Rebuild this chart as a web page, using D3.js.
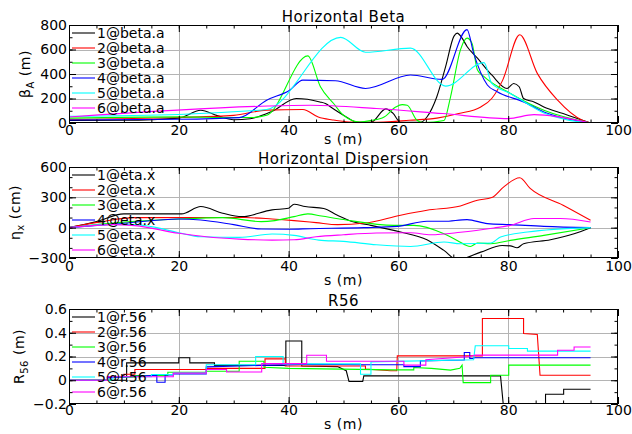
<!DOCTYPE html>
<html>
<head>
<meta charset="utf-8">
<script src="https://cdn.jsdelivr.net/npm/d3@7"></script>
<style>
  body { margin: 0; background: #fff; }
  text { font-family: "DejaVu Sans", sans-serif; }
</style>
</head>
<body>
<svg id="chart" width="632" height="434"></svg>
<script>
// series colours (1..6)
const seriesColors = ["#000000", "#ff0000", "#00ff00", "#0000ff", "#00ffff", "#ff00ff"];

// ---- Horizontal Beta (m), [s, beta] ----
const beta1 = [[0,20],[10,22],[20,40],[24,104],[27,60],[30,27],[33,35],[37,95],[41.4,200],[45.7,172],[46.7,159],[48,120],[50.5,50],[52.5,5],[55,5],[57.7,115],[59,80],[60.4,5],[64,5],[65.2,49],[67,214],[68.6,460],[70.1,707],[70.7,734],[71.6,693],[72.5,625],[74.4,529],[77,392],[79.8,282],[81,323],[82,296],[82.8,200],[84.7,172],[86.5,131],[90,77],[92.6,36],[95,0]];
const beta2 = [[0,30],[20,45],[30,62],[36,105],[42.6,110],[45.4,49],[48,25],[51,8],[55,5],[62,22],[67,40],[71,77],[75,131],[77,200],[79,350],[82.1,720],[85.3,405],[89,186],[93.5,22],[95,0]];
const beta3 = [[0,40],[20,50],[30,45],[33,45],[36,63],[43.5,548],[45.8,296],[48.2,159],[50,63],[53,8],[55,20],[57.4,49],[59.5,130],[60.7,150],[61.6,145],[63.4,22],[64.6,3],[68.3,20],[69.5,214],[71.3,597],[72.5,693],[73.4,652],[74.4,433],[75.6,378],[80.4,241],[86.5,104],[95,0]];
const beta4 = [[0,25],[20,30],[31,44],[36,186],[40.2,268],[42.6,350],[48.5,345],[54,282],[62.2,392],[68,356],[72.5,762],[73.7,570],[76.2,310],[78,255],[82.8,172],[86.5,90],[95,0]];
const beta5 = [[0,55],[20,70],[33,100],[36,110],[49.5,699],[54,578],[62.2,611],[68.6,301],[75.6,493],[77,323],[80.4,241],[86.5,82],[95,0]];
const beta6 = [[0,49],[35,137],[44,145],[56,118],[68,77],[80,36],[84.7,68],[95,0]];

// ---- Horizontal Dispersion (cm), [s, eta] ----
const eta1 = [[0,0],[5,60],[10,136],[20.5,136],[24,209],[28,143],[31.5,109],[37,176],[40,192],[41,232],[43,209],[46.4,189],[48.9,123],[51.9,56],[55,23],[60.4,-43],[65.2,-119],[68.3,-225],[70.7,-318],[75,-242],[78.9,-176],[80.4,-180],[81.6,-199],[82.8,-159],[87.7,-119],[92,-60],[95,0]];
const eta2 = [[0,0],[6,60],[12,99],[32,100],[37,86],[41,70],[45,50],[48.9,30],[54,46],[60.4,123],[65.2,172],[71.3,215],[74.4,272],[77,298],[79.2,404],[82.1,494],[84,388],[90,222],[95,73]];
const eta3 = [[0,0],[10,55],[20,86],[28,99],[35,60],[37.5,70],[41,109],[43.5,136],[46,115],[50,80],[59.2,23],[62.8,23],[68.3,-60],[70.7,-126],[73.1,-186],[74.4,-152],[76.8,-159],[80.4,-126],[86.5,-76],[95,0]];
const eta4 = [[0,0],[10,43],[20,86],[24,76],[30,30],[35,-13],[40,-15],[44,-10],[53.7,0],[59.8,13],[65.2,63],[68.3,63],[72.5,80],[76.2,40],[80.4,30],[86.5,13],[95,0]];
const eta5 = [[0,0],[8,33],[12,30],[15,10],[20,-50],[24,-90],[31,-96],[37,-63],[41,-76],[45.5,-123],[50,-136],[56,-169],[62.2,-186],[68.3,-142],[71.3,-159],[76.8,-152],[78.6,-93],[83.5,-43],[95,0]];
const eta6 = [[0,0],[8,30],[12,20],[20,-56],[25,-90],[31,-113],[37,-123],[41,-120],[45,-90],[50,-70],[56,-53],[62.2,-50],[65.9,-70],[71.3,-46],[77.4,-3],[80.4,23],[84.7,90],[89.5,90],[95,56]];

// ---- R56 (m), [s, r56] step data ----
const r561 = [[0,0],[10.5,0],[10.5,0.146],[20,0.146],[20,0.19],[22,0.19],[22,0.146],[26.5,0.146],[26.5,0.125],[39.5,0.125],[39.5,0.33],[42.4,0.33],[42.4,0.12],[48.9,0.115],[50.5,0.08],[51,-0.01],[53.5,-0.01],[53.7,0.037],[78.6,0.037],[79.2,-0.25],[86.8,-0.25],[86.8,-0.118],[90.1,-0.118],[90.1,-0.076],[95,-0.076]];
const r562 = [[0,0],[7,0],[7,0.03],[10,0.03],[10,0.05],[12,0.05],[12,0.09],[25,0.09],[25,0.1],[35.7,0.1],[35.7,0.18],[39.4,0.18],[39.4,0.12],[54,0.12],[54,0.095],[58.6,0.08],[59.7,0.08],[59.8,0.205],[75.3,0.205],[75.3,0.52],[82.8,0.52],[82.8,0.394],[85.3,0.385],[85.8,0.042],[95,0.042]];
const r563 = [[0,0],[7.5,0],[7.5,0.025],[12,0.025],[12,0.04],[18,0.04],[18,0.068],[25,0.068],[25,0.076],[31,0.076],[31,0.16],[35.5,0.16],[35.5,0.11],[40,0.1],[59.2,0.087],[62.8,0.087],[62.8,0.107],[66,0.1],[69.5,0.085],[71.2,0.1],[71.6,0.127],[71.8,-0.02],[76.8,-0.02],[76.8,0.042],[80.1,0.042],[80.1,0.127],[95,0.127]];
const r564 = [[0,0],[7,0],[7,0.02],[15,0.04],[16,0.04],[16,-0.017],[17.5,-0.017],[17.5,0.045],[19,0.045],[19,0.054],[25,0.054],[25,0.113],[35,0.125],[44,0.135],[54,0.13],[61,0.13],[61,0.115],[64,0.115],[64,0.163],[72,0.17],[72,0.234],[73,0.234],[73,0.183],[73.7,0.183],[73.7,0.19],[95,0.19]];
const r565 = [[0,0],[8,0],[8,0.03],[15,0.03],[15,0.048],[19,0.048],[19,0.06],[25,0.06],[25,0.13],[34,0.13],[34,0.2],[39,0.2],[39,0.138],[53.1,0.138],[53.1,0.05],[55,0.05],[55,0.155],[73.7,0.172],[74,0.29],[80.1,0.29],[80.1,0.268],[83.5,0.268],[83.5,0.245],[95,0.245]];
const r566 = [[0,0],[7,0],[7,0.03],[19,0.03],[19,0.06],[25,0.06],[25,0.09],[28.7,0.09],[28.7,0.07],[35.1,0.07],[35.1,0.14],[43.3,0.14],[43.3,0.21],[46.9,0.21],[46.9,0.16],[61,0.16],[61,0.127],[65,0.127],[65,0.172],[73,0.2],[74,0.212],[89,0.212],[89,0.253],[92,0.253],[92,0.28],[95,0.28]];

const svg = d3.select("#chart");
const X0 = 69, X1 = 618;
const FONT = 14;

const panels = [
  { title: "Horizontal Beta", top: 25, bottom: 123, domain: [0, 800], major: 200, minor: 100,
    series: [beta1, beta2, beta3, beta4, beta5, beta6], names: ["beta.a"], curve: d3.curveMonotoneX,
    ylab: ["\u03b2", "A", " (m)"], ylabX: 30, tickPad: 2, xlabOff: 21, fmt: d => d },
  { title: "Horizontal Dispersion", top: 167, bottom: 258, domain: [-300, 600], major: 300, minor: 100,
    series: [eta1, eta2, eta3, eta4, eta5, eta6], names: ["eta.x"], curve: d3.curveMonotoneX,
    ylab: ["\u03b7", "x", " (cm)"], ylabX: 20, tickPad: 3, xlabOff: 27, fmt: d => d < 0 ? "\u2212" + (-d) : d },
  { title: "R56", top: 309, bottom: 404, domain: [-0.2, 0.6], major: 0.2, minor: 0.1,
    series: [r561, r562, r563, r564, r565, r566], names: ["r.56"], curve: d3.curveLinear,
    ylab: ["R", "56", " (m)"], ylabX: 24, tickPad: 1, xlabOff: 25,
    fmt: d => Math.abs(d) < 1e-9 ? "0" : (d < 0 ? "\u2212" + (-d).toFixed(1) : d.toFixed(1)) }
];

function range(a, b, step) {
  const out = [];
  const n = Math.round((b - a) / step);
  for (let i = 0; i <= n; i++) out.push(+(a + i * step).toFixed(6));
  return out;
}

panels.forEach((p, pi) => {
  const x = d3.scaleLinear().domain([0, 100]).range([X0, X1]);
  const y = d3.scaleLinear().domain(p.domain).range([p.bottom, p.top]);
  const g = svg.append("g");

  const xMajor = range(0, 100, 20), xMinor = range(0, 100, 5);
  const yMajor = range(p.domain[0], p.domain[1], p.major), yMinor = range(p.domain[0], p.domain[1], p.minor);

  // grid
  g.selectAll(".vg").data(xMajor.slice(1, -1)).enter().append("line")
    .attr("x1", d => Math.round(x(d)) + 0.5).attr("x2", d => Math.round(x(d)) + 0.5)
    .attr("y1", p.top).attr("y2", p.bottom)
    .attr("stroke", "#b4b4b4").attr("stroke-width", 1);
  g.selectAll(".hg").data(yMajor.slice(1, -1)).enter().append("line")
    .attr("x1", X0).attr("x2", X1)
    .attr("y1", d => Math.round(y(d)) + 0.5).attr("y2", d => Math.round(y(d)) + 0.5)
    .attr("stroke", "#b4b4b4").attr("stroke-width", 1);

  // clip
  const clipId = "clip" + pi;
  svg.append("clipPath").attr("id", clipId).append("rect")
    .attr("x", X0).attr("y", p.top).attr("width", X1 - X0).attr("height", p.bottom - p.top);

  const line = d3.line().x(d => x(d[0])).y(d => y(d[1])).curve(p.curve);
  g.append("g").attr("clip-path", `url(#${clipId})`)
    .selectAll("path").data(p.series).enter().append("path")
    .attr("d", line)
    .attr("fill", "none")
    .attr("stroke", (d, i) => seriesColors[i])
    .attr("stroke-width", 1.1);

  // legend
  const leg = g.append("g");
  p.series.forEach((s, i) => {
    const ly = p.top + 8 + i * 15;
    leg.append("line").attr("x1", 72).attr("x2", 95).attr("y1", ly).attr("y2", ly)
      .attr("stroke", seriesColors[i]).attr("stroke-width", 1.1);
    leg.append("text").attr("x", 97).attr("y", ly + 5).attr("font-size", FONT)
      .attr("fill", "#000").text(`${i + 1}@${p.names[0]}`);
  });

  // axes (inward ticks)
  g.append("g").attr("transform", `translate(0,${p.bottom})`)
    .call(d3.axisBottom(x).tickValues(xMajor).tickSize(-7).tickPadding(p.tickPad).tickFormat(d => d));
  g.append("g").attr("transform", `translate(0,${p.bottom})`)
    .call(d3.axisBottom(x).tickValues(xMinor).tickSize(-3.5).tickFormat(""));
  g.append("g").attr("transform", `translate(0,${p.top})`)
    .call(d3.axisTop(x).tickValues(xMajor).tickSize(-7).tickFormat(""));
  g.append("g").attr("transform", `translate(0,${p.top})`)
    .call(d3.axisTop(x).tickValues(xMinor).tickSize(-3.5).tickFormat(""));
  g.append("g").attr("transform", `translate(${X0},0)`)
    .call(d3.axisLeft(y).tickValues(yMajor).tickSize(-7).tickPadding(2).tickFormat(p.fmt));
  g.append("g").attr("transform", `translate(${X0},0)`)
    .call(d3.axisLeft(y).tickValues(yMinor).tickSize(-3.5).tickFormat(""));
  g.append("g").attr("transform", `translate(${X1},0)`)
    .call(d3.axisRight(y).tickValues(yMajor).tickSize(-7).tickFormat(""));
  g.append("g").attr("transform", `translate(${X1},0)`)
    .call(d3.axisRight(y).tickValues(yMinor).tickSize(-3.5).tickFormat(""));

  g.selectAll(".domain").remove();
  g.selectAll(".tick line").attr("stroke", "#000");
  g.selectAll(".tick text").attr("font-size", FONT).attr("font-family", "DejaVu Sans, sans-serif").attr("fill", "#000");

  // frame
  g.append("rect").attr("x", X0 + 0.5).attr("y", p.top + 0.5)
    .attr("width", X1 - X0 - 1).attr("height", p.bottom - p.top - 1)
    .attr("fill", "none").attr("stroke", "#000").attr("stroke-width", 1);

  // title
  g.append("text").attr("x", (X0 + X1) / 2).attr("y", p.top - 3)
    .attr("text-anchor", "middle").attr("font-size", 15).attr("letter-spacing", 0.5).text(p.title);

  // x label
  g.append("text").attr("x", (X0 + X1) / 2).attr("y", p.bottom + p.xlabOff)
    .attr("text-anchor", "middle").attr("font-size", FONT).attr("letter-spacing", 0.5).text("s (m)");

  // y label
  const cy = (p.top + p.bottom) / 2;
  const yl = g.append("text").attr("transform", `translate(${p.ylabX},${cy}) rotate(-90)`)
    .attr("text-anchor", "middle").attr("font-size", FONT).attr("letter-spacing", 0.5);
  yl.append("tspan").text(p.ylab[0]);
  yl.append("tspan").attr("font-size", 10).attr("dy", 4).text(p.ylab[1]);
  yl.append("tspan").attr("dy", -4).text(p.ylab[2]);
});
</script>
</body>
</html>
